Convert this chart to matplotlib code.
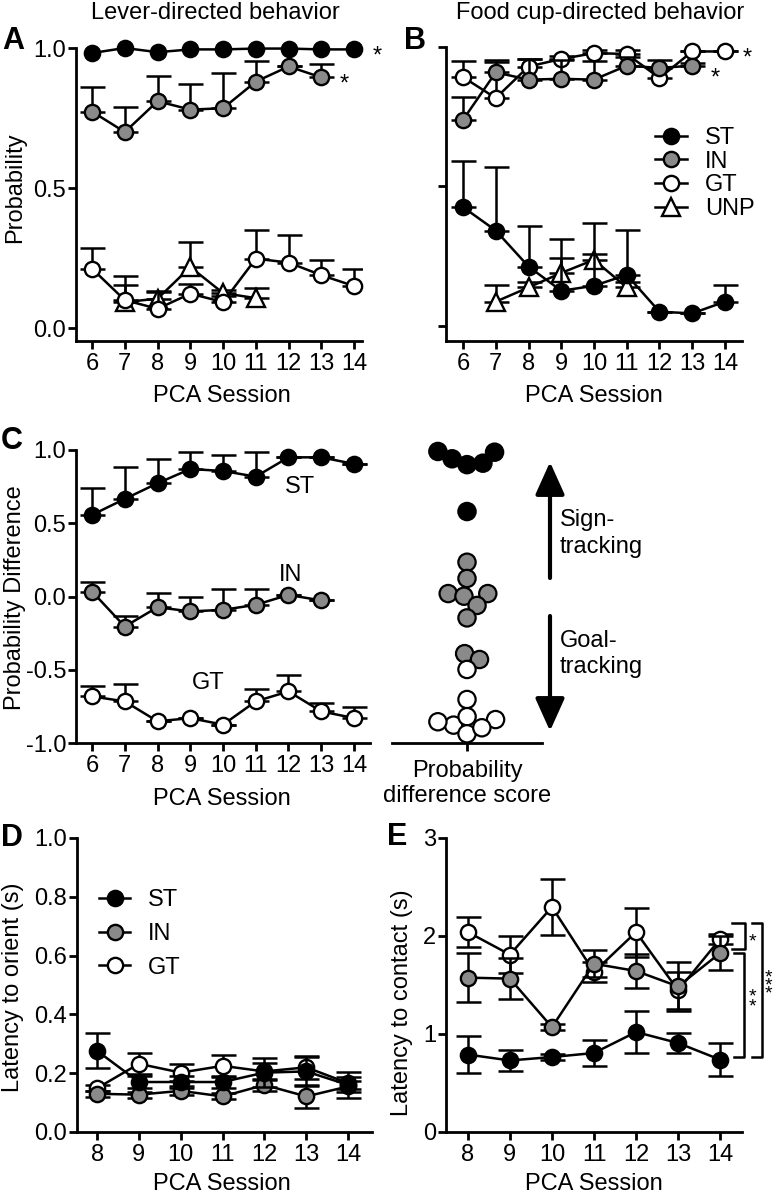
import numpy as np
import matplotlib
matplotlib.use('Agg')
import matplotlib.pyplot as plt
from matplotlib.lines import Line2D
from matplotlib.patches import FancyArrowPatch

plt.rcParams['font.family'] = ['Liberation Sans', 'DejaVu Sans']

# ---------------- data ----------------
sess_ab = [6, 7, 8, 9, 10, 11, 12, 13, 14]
sess_in = [6, 7, 8, 9, 10, 11, 12, 13]
sess_unp = [7, 8, 9, 10, 11]
sess_de = [8, 9, 10, 11, 12, 13, 14]

# Panel A: lever-directed probability
a_st = [0.982, 1.0, 0.985, 0.995, 0.995, 0.998, 0.998, 0.995, 0.995]
a_in = [0.773, 0.70, 0.81, 0.78, 0.785, 0.88, 0.934, 0.895]
a_in_err = [0.087, 0.09, 0.09, 0.09, 0.125, 0.075, 0.0, 0.048]
a_gt = [0.212, 0.10, 0.069, 0.123, 0.093, 0.248, 0.234, 0.189, 0.15]
a_gt_err = [0.074, 0.085, 0.061, 0.036, 0.02, 0.104, 0.10, 0.053, 0.062]
a_unp = [0.093, 0.105, 0.218, 0.125, 0.107]
a_unp_err = [0.06, 0.026, 0.09, 0.01, 0.037]

# Panel B: food cup-directed probability
b_st = [0.426, 0.342, 0.213, 0.126, 0.144, 0.183, 0.051, 0.045, 0.087]
b_st_err = [0.167, 0.227, 0.147, 0.119, 0.114, 0.161, 0.0, 0.0, 0.058]
b_in = [0.739, 0.909, 0.883, 0.886, 0.883, 0.933, 0.925, 0.933]
b_in_err = [0.081, 0.046, 0.074, 0.067, 0.066, 0.03, 0.03, 0.01]
b_gt = [0.892, 0.817, 0.93, 0.957, 0.978, 0.975, 0.889, 0.984, 0.984]
b_gt_err = [0.057, 0.13, 0.027, 0.01, 0.01, 0.015, 0.04, 0.0, 0.0]
b_unp = [0.087, 0.138, 0.19, 0.237, 0.138]
b_unp_err = [0.058, 0.02, 0.12, 0.131, 0.02]

# Panel C: probability difference
c_st = [0.557, 0.666, 0.773, 0.870, 0.857, 0.818, 0.95, 0.95, 0.905]
c_st_err = [0.182, 0.22, 0.166, 0.119, 0.109, 0.171, 0.0, 0.0, 0.0]
c_in = [0.034, -0.205, -0.073, -0.102, -0.091, -0.057, 0.011, -0.027]
c_in_err = [0.064, 0.069, 0.10, 0.102, 0.141, 0.107, 0.0, 0.0]
c_gt = [-0.682, -0.716, -0.852, -0.83, -0.875, -0.716, -0.648, -0.784, -0.83]
c_gt_err = [0.073, 0.121, 0.0, 0.0, 0.0, 0.084, 0.114, 0.057, 0.075]

# Panel C (right): individual probability difference scores
score_st = [0.99, 0.94, 0.90, 0.91, 0.985, 0.58]
score_in = [0.234, 0.123, 0.02, 0.002, 0.02, -0.061, -0.146, -0.39, -0.43]
score_gt = [-0.498, -0.703, -0.878, -0.84, -0.82, -0.855, -0.937, -0.896]

# Panel D: latency to orient
d_st = [0.276, 0.17, 0.17, 0.17, 0.202, 0.206, 0.16]
d_st_err = [0.06, 0.02, 0.02, 0.02, 0.05, 0.05, 0.045]
d_in = [0.13, 0.127, 0.14, 0.121, 0.16, 0.121, 0.155]
d_in_err = [0.01, 0.01, 0.015, 0.01, 0.02, 0.04, 0.02]
d_gt = [0.149, 0.232, 0.202, 0.225, 0.206, 0.22, 0.166]
d_gt_err = [0.01, 0.036, 0.03, 0.037, 0.03, 0.04, 0.02]

# Panel E: latency to contact
e_st = [0.79, 0.73, 0.765, 0.806, 1.02, 0.908, 0.738]
e_st_err = [0.19, 0.11, 0.03, 0.13, 0.21, 0.1, 0.17]
e_in = [1.575, 1.565, 1.07, 1.717, 1.643, 1.486, 1.826]
e_in_err = [0.25, 0.21, 0.03, 0.14, 0.17, 0.25, 0.17]
e_gt = [2.04, 1.81, 2.296, 1.633, 2.04, 1.445, 1.97]
e_gt_err = [0.15, 0.19, 0.29, 0.1, 0.25, 0.19, 0.05]

groups = ['ST', 'IN', 'GT', 'UNP']

# ---------------- style ----------------
W, H = 773, 1199
FS = 17
GRAY = '#8a8a8a'
COL = {'ST': 'black', 'IN': GRAY, 'GT': 'white', 'UNP': 'white'}
MK = {'ST': 'o', 'IN': 'o', 'GT': 'o', 'UNP': '^'}
ZO = {'UNP': 2, 'GT': 3, 'IN': 4, 'ST': 5}
LW = 1.8
MS = 11
MEW = 1.7

fig = plt.figure(figsize=(W / 100, H / 100), dpi=100)


def ax_at(l, r, t, b):
    return fig.add_axes([l / W, 1 - b / H, (r - l) / W, (b - t) / H])


def style(ax, xticks, yticks, ylabels=True):
    for s in ['top', 'right']:
        ax.spines[s].set_visible(False)
    for s in ['left', 'bottom']:
        ax.spines[s].set_linewidth(2.0)
    ax.set_xticks(xticks)
    ax.set_yticks(yticks)
    ax.tick_params(axis='both', direction='out', length=6, width=2.0,
                   labelsize=FS)
    ax.tick_params(axis='x', pad=2.5)
    ax.tick_params(axis='y', pad=1.0)
    if not ylabels:
        ax.set_yticklabels([])
    ax.patch.set_alpha(0)


def series(ax, x, y, err, g, both=False, ms=MS):
    z = ZO[g]
    if err is not None:
        err = np.asarray(err, dtype=float)
        yerr = err if both else [np.zeros_like(err), err]
        ax.errorbar(x, y, yerr=yerr, fmt='none', ecolor='black',
                    elinewidth=LW, capsize=9, capthick=LW, zorder=z)
    ax.plot(x, y, color='black', lw=LW, marker=MK[g], ms=ms if g != 'UNP' else ms + 1.5,
            mfc=COL[g], mec='black', mew=MEW, zorder=z + 0.5, clip_on=False)


def px(x, y):
    return (x / W, 1 - y / H)


def ftext(x, y, s, **kw):
    kw.setdefault('fontsize', FS)
    kw.setdefault('ha', 'center')
    kw.setdefault('va', 'center')
    return fig.text(x / W, 1 - y / H, s, **kw)


def handles(gs, ms=MS):
    return [Line2D([], [], color='black', lw=LW, marker=MK[g],
                   ms=ms if g != 'UNP' else ms + 1.5, mfc=COL[g],
                   mec='black', mew=MEW) for g in gs]


# ---------------- Panel A ----------------
axA = ax_at(76, 362, 48, 341)
axA.set_xlim(5.51, 14.24)
axA.set_ylim(-0.046, 1.0)
style(axA, sess_ab, [0.0, 0.5, 1.0])
axA.set_yticklabels(['0.0', '0.5', '1.0'])
series(axA, sess_unp, a_unp, a_unp_err, 'UNP')
series(axA, sess_ab, a_gt, a_gt_err, 'GT')
series(axA, sess_in, a_in, a_in_err, 'IN')
series(axA, sess_ab, a_st, None, 'ST')
axA.annotate('*', (sess_ab[-1], a_st[-1]), xytext=(13, -5), textcoords='offset points',
             fontsize=FS, va='center', ha='left')
axA.annotate('*', (sess_in[-1], a_in[-1]), xytext=(13, -5), textcoords='offset points',
             fontsize=FS, va='center', ha='left')

# ---------------- Panel B ----------------
axB = ax_at(446, 742, 47, 341)
axB.set_xlim(5.48, 14.52)
axB.set_ylim(-0.054, 1.0)
style(axB, sess_ab, [0.0, 0.5, 1.0], ylabels=False)
series(axB, sess_unp, b_unp, b_unp_err, 'UNP')
series(axB, sess_ab, b_gt, b_gt_err, 'GT')
series(axB, sess_in, b_in, b_in_err, 'IN')
series(axB, sess_ab, b_st, b_st_err, 'ST')
axB.annotate('*', (sess_ab[-1], b_gt[-1]), xytext=(13, -5), textcoords='offset points',
             fontsize=FS, va='center', ha='left')
axB.annotate('*', (sess_in[-1], b_in[-1]), xytext=(13, -9), textcoords='offset points',
             fontsize=FS, va='center', ha='left')
axB.legend(handles(groups), groups, loc='upper left',
           bbox_to_anchor=px(655, 127), bbox_transform=fig.transFigure,
           frameon=False, fontsize=FS, handlelength=1.36, handletextpad=0.76,
           labelspacing=0.07, borderpad=0, borderaxespad=0)

# ---------------- Panel C (left) ----------------
axC = ax_at(76, 370, 450, 743)
axC.set_xlim(5.51, 14.49)
axC.set_ylim(-1.0, 1.0)
style(axC, sess_ab, [-1.0, -0.5, 0.0, 0.5, 1.0])
axC.set_yticklabels(['-1.0', '-0.5', '0.0', '0.5', '1.0'])
series(axC, sess_ab, c_gt, c_gt_err, 'GT')
series(axC, sess_in, c_in, c_in_err, 'IN')
series(axC, sess_ab, c_st, c_st_err, 'ST')
axC.text(12.35, 0.75, 'ST', fontsize=FS, ha='center', va='center')
axC.text(12.05, 0.15, 'IN', fontsize=FS, ha='center', va='center')
axC.text(9.54, -0.59, 'GT', fontsize=FS, ha='center', va='center')

# ---------------- Panel C (right) swarm ----------------
axS = ax_at(392, 542, 450, 743)
axS.set_xlim(-0.5, 0.5)
axS.set_ylim(-1.0, 1.0)
for s in ['top', 'right', 'left']:
    axS.spines[s].set_visible(False)
axS.spines['bottom'].set_linewidth(2.0)
axS.set_yticks([])
axS.set_xticks([0])
axS.set_xticklabels([''])
axS.tick_params(axis='x', direction='out', length=6, width=2.0)
axS.patch.set_alpha(0)

vals = np.array(score_st + score_in + score_gt)
cols = ['black'] * len(score_st) + [GRAY] * len(score_in) + ['white'] * len(score_gt)


def swarm(ax, yvals, d_px):
    tr = ax.transData
    ypx = tr.transform(np.column_stack([np.zeros(len(yvals)), yvals]))[:, 1]
    order = np.argsort(ypx)
    xs = np.zeros(len(yvals))
    placed = []
    for i in order:
        cands = [0.0]
        for j in placed:
            dy = ypx[i] - ypx[j]
            if abs(dy) < d_px:
                dx = np.sqrt(d_px ** 2 - dy ** 2)
                cands += [xs[j] + dx, xs[j] - dx]
        cands.sort(key=abs)
        for c in cands:
            if all((c - xs[j]) ** 2 + (ypx[i] - ypx[j]) ** 2 >= d_px ** 2 - 1e-6 for j in placed):
                xs[i] = c
                break
        placed.append(i)
    x0 = tr.transform((0, 0))[0]
    return tr.inverted().transform(np.column_stack([x0 + xs, ypx]))[:, 0]


sx = swarm(axS, vals, 16.0)
axS.scatter(sx, vals, s=155, c=cols, edgecolors='black', linewidths=1.6,
            zorder=3, clip_on=False)

ftext(467, 777, 'Probability', va='baseline')
ftext(467, 802, 'difference score', va='baseline')

# arrows and labels
for (y0, y1) in [(578, 462), (616, 731)]:
    fig.add_artist(FancyArrowPatch(px(550, y0), px(550, y1), transform=fig.transFigure,
                                   arrowstyle='-|>,head_length=1.0,head_width=0.45',
                                   mutation_scale=20, lw=3, color='black',
                                   shrinkA=0, shrinkB=0))
ftext(560, 526, 'Sign-', ha='left', va='baseline')
ftext(560, 553, 'tracking', ha='left', va='baseline')
ftext(560, 647, 'Goal-', ha='left', va='baseline')
ftext(560, 673, 'tracking', ha='left', va='baseline')

# ---------------- Panel D ----------------
axD = ax_at(77, 372, 838, 1132)
axD.set_xlim(7.52, 14.57)
axD.set_ylim(0.0, 1.0)
style(axD, sess_de, [0.0, 0.2, 0.4, 0.6, 0.8, 1.0])
axD.set_yticklabels(['0.0', '0.2', '0.4', '0.6', '0.8', '1.0'])
series(axD, sess_de, d_gt, d_gt_err, 'GT', both=True)
series(axD, sess_de, d_in, d_in_err, 'IN', both=True)
series(axD, sess_de, d_st, d_st_err, 'ST', both=True)
axD.legend(handles(groups[:3]), groups[:3], loc='upper left',
           bbox_to_anchor=px(99, 889), bbox_transform=fig.transFigure,
           frameon=False, fontsize=FS, handlelength=1.32, handletextpad=0.76,
           labelspacing=0.5, borderpad=0, borderaxespad=0)

# ---------------- Panel E ----------------
axE = ax_at(446, 742, 838, 1132)
axE.set_xlim(7.48, 14.52)
axE.set_ylim(0, 3)
style(axE, sess_de, [0, 1, 2, 3])
axE.set_yticklabels(['0', '1', '2', '3'])
series(axE, sess_de, e_gt, e_gt_err, 'GT', both=True)
series(axE, sess_de, e_in, e_in_err, 'IN', both=True)
series(axE, sess_de, e_st, e_st_err, 'ST', both=True)


# significance brackets (figure pixels)
def bracket(x_left, x_right, y_top, y_bot):
    xs = [x_left, x_right, x_right, x_left]
    ys = [y_top, y_top, y_bot, y_bot]
    fig.add_artist(Line2D([x / W for x in xs], [1 - y / H for y in ys],
                          transform=fig.transFigure, color='black', lw=1.8))


bracket(732, 745, 923, 949)
bracket(734, 744, 953, 1057)
bracket(752, 762, 923, 1057)
ftext(752, 942, '*', fontsize=14)
ftext(752, 1002, '*\n*', fontsize=14, linespacing=0.48)
ftext(768, 986, '*\n*\n*', fontsize=14, linespacing=0.3)

# ---------------- labels ----------------
ftext(215, 13, 'Lever-directed behavior')
ftext(600, 13, 'Food cup-directed behavior')

for (x, y) in [(222, 396), (594, 396), (222, 799), (222, 1184), (594, 1184)]:
    ftext(x, y, 'PCA Session')

ftext(15, 188, 'Probability', rotation=90)
ftext(15, 598, 'Probability Difference', rotation=90)
ftext(13, 987, 'Latency to orient (s)', rotation=90)
ftext(402, 1003, 'Latency to contact (s)', rotation=90)

for (lab, x, y) in [('A', 13, 41), ('B', 415, 41), ('C', 12, 441), ('D', 12, 838), ('E', 397, 837)]:
    ftext(x, y, lab, fontsize=22, fontweight='bold')

fig.savefig('out.png', dpi=100)
